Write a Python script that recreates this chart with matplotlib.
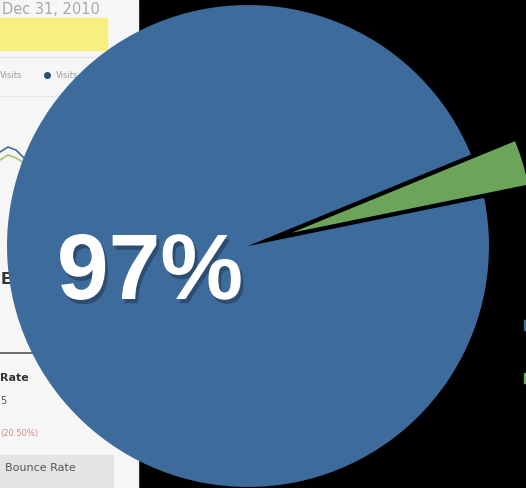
import matplotlib
matplotlib.use("Agg")
import matplotlib.pyplot as plt
import matplotlib.patheffects as pe
from matplotlib.patches import Rectangle

# pie data
labels = ["Share", "Rest"]
values = [97, 3]
colors = ["#3d6b9b", "#6ca55a"]
big_label = "97%"

W, H = 526, 488

fig = plt.figure(figsize=(W / 100, H / 100), dpi=100, facecolor="black")
ax = fig.add_axes([0, 0, 1, 1])
ax.set_facecolor("black")


def yy(y):
    # screen y (down) -> data y (up)
    return H - y


# blurred analytics screenshot on the left
ax.add_patch(Rectangle((0, 0), 138, H, color="#f6f6f7", zorder=0))
ax.text(2, yy(14), "Dec 31, 2010", fontsize=10.5, color="#a8a8a8", zorder=1)
ax.add_patch(Rectangle((0, yy(50)), 107, 32, color="#f6f07e", zorder=1))
ax.plot([0, 138], [yy(57), yy(57)], color="#e2e2e2", lw=1, zorder=1)
ax.text(0, yy(78), "Visits", fontsize=6, color="#9a9a9a", zorder=1)
ax.plot([47], [yy(75)], "o", color="#2c4f74", ms=4, zorder=1)
ax.text(56, yy(78), "Visits", fontsize=6, color="#9a9a9a", zorder=1)
ax.plot([0, 138], [yy(96), yy(96)], color="#e6e6e6", lw=1, zorder=1)
ax.plot([0, 8, 16, 24, 30], [yy(152), yy(147), yy(150), yy(158), yy(164)],
        color="#3c6a8f", lw=1.2, zorder=1)
ax.plot([0, 8, 16, 24, 30], [yy(160), yy(155), yy(158), yy(163), yy(168)],
        color="#a8c46a", lw=1.2, zorder=1)
ax.text(1, yy(284), "E", fontsize=11, fontweight="bold", color="#333333", zorder=1)
ax.plot([0, 138], [yy(353), yy(353)], color="#555555", lw=1.2, zorder=1)
ax.text(0, yy(381), "Rate", fontsize=8, fontweight="bold", color="#333333", zorder=1)
ax.text(0, yy(404), "5", fontsize=7, color="#555555", zorder=1)
ax.text(0, yy(436), "(20.50%)", fontsize=6, color="#d48a8a", zorder=1)
ax.add_patch(Rectangle((0, 0), 113, yy(455), color="#e4e4e4", zorder=1))
ax.text(5, yy(471), "Bounce Rate", fontsize=8, color="#555555", zorder=1)

# legend swatches cut off at the right edge
ax.add_patch(Rectangle((524, yy(330)), 4, 10, color=colors[0], zorder=1))
ax.add_patch(Rectangle((524, yy(383)), 4, 10, color=colors[1], zorder=1))

# the pie, green slice pulled out (explode is in data units here)
radius = 241
wedges, _ = ax.pie(values[::-1], colors=colors[::-1], radius=radius,
                   center=(248, yy(246)), startangle=11.5,
                   explode=[46, 0], frame=True)
for w in wedges:
    w.set_zorder(3)
    w.set_linewidth(0)
ax.set_xlim(0, W)
ax.set_ylim(0, H)
ax.set_aspect("equal")
ax.axis("off")

t = ax.text(150, yy(275), big_label, fontsize=67, fontweight="bold",
            family=["Liberation Sans", "DejaVu Sans"], color="white",
            ha="center", va="center", zorder=5)
t.set_path_effects([pe.SimplePatchShadow(offset=(2, -3), shadow_rgbFace="#1a2c40",
                                         alpha=0.45), pe.Normal()])

fig.savefig("out.png", dpi=100, facecolor="black")
